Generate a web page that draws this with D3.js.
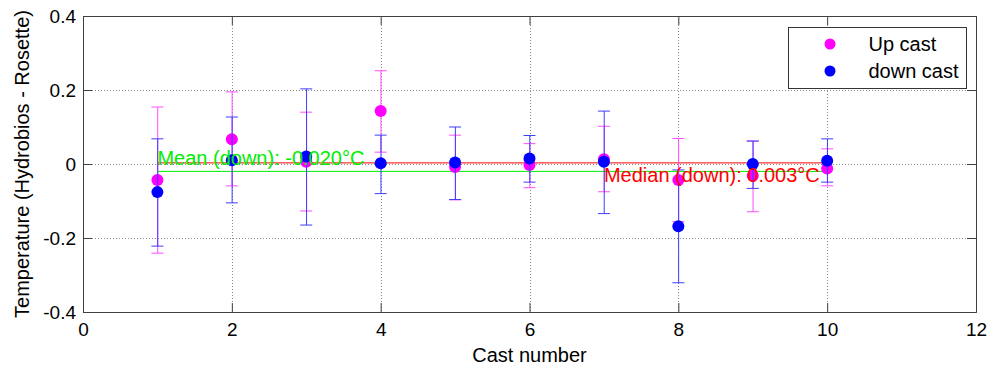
<!DOCTYPE html>
<html>
<head>
<meta charset="utf-8">
<script src="https://cdn.jsdelivr.net/npm/d3@7"></script>
<style>
  body { margin: 0; background: #fff; }
  text { font-family: "Liberation Sans", Arial, sans-serif; }
</style>
</head>
<body>
<div id="chart"></div>
<script>
// cast numbers and the two series (value, lower and upper error bar end)
const casts = [1, 2, 3, 4, 5, 6, 7, 8, 9, 10];
const upValue = [-0.043, 0.067, 0.006, 0.143, -0.008, -0.003, 0.013, -0.043, -0.032, -0.012];
const upLow = [-0.241, -0.059, -0.127, 0.032, -0.097, -0.064, -0.075, -0.156, -0.129, -0.059];
const upHigh = [0.154, 0.195, 0.140, 0.252, 0.078, 0.055, 0.102, 0.069, 0.062, 0.041];
const downValue = [-0.076, 0.010, 0.020, 0.002, 0.004, 0.015, 0.006, -0.168, 0.000, 0.009];
const downLow = [-0.222, -0.105, -0.165, -0.080, -0.096, -0.049, -0.134, -0.321, -0.066, -0.049];
const downHigh = [0.068, 0.127, 0.203, 0.078, 0.100, 0.077, 0.143, -0.016, 0.062, 0.068];
const meanDown = -0.020;
const medianDown = 0.003;
const xTicks = [0, 2, 4, 6, 8, 10, 12];
const yTicks = [-0.4, -0.2, 0, 0.2, 0.4];
const yTickLabels = ["-0.4", "-0.2", "0", "0.2", "0.4"];
const legendLabels = ["Up cast", "down cast"];

const width = 995, height = 373;
const margin = {top: 16, right: 19, bottom: 61, left: 83};
const innerW = width - margin.left - margin.right;
const innerH = height - margin.top - margin.bottom;
const upColor = "#ff00ff";
const downColor = "#0000ff";
const frameColor = "#404040";

let svg = d3.select("#chart").append("svg")
  .attr("width", width)
  .attr("height", height);

let g = svg.append("g")
  .attr("transform", `translate(${margin.left},${margin.top})`);

let x = d3.scaleLinear().domain([0, 12]).range([0, innerW]);
let y = d3.scaleLinear().domain([-0.4, 0.4]).range([innerH, 0]);

// dotted grid
let grid = g.append("g").attr("stroke", "#8a8a8a").attr("stroke-dasharray", "1,2");
grid.selectAll(".gx")
  .data(xTicks.filter(d => d > 0 && d < 12))
  .enter().append("line")
    .attr("x1", d => Math.round(x(d)) + 0.5).attr("x2", d => Math.round(x(d)) + 0.5)
    .attr("y1", 0).attr("y2", innerH);
grid.selectAll(".gy")
  .data(yTicks.filter(d => d > -0.4 && d < 0.4))
  .enter().append("line")
    .attr("y1", d => Math.round(y(d)) + 0.5).attr("y2", d => Math.round(y(d)) + 0.5)
    .attr("x1", 0).attr("x2", innerW);

// axes, ticks pointing inwards on all four sides
let xAxis = g.append("g")
  .attr("transform", `translate(0,${innerH})`)
  .call(d3.axisBottom(x).tickValues(xTicks).tickSize(-9).tickPadding(11).tickFormat(d3.format("d")));
let xTop = g.append("g")
  .call(d3.axisTop(x).tickValues(xTicks).tickSize(-9).tickFormat(""));
let yAxis = g.append("g")
  .call(d3.axisLeft(y).tickValues(yTicks).tickSize(-9).tickPadding(7)
    .tickFormat((d, i) => yTickLabels[i]));
let yRight = g.append("g")
  .attr("transform", `translate(${innerW},0)`)
  .call(d3.axisRight(y).tickValues(yTicks).tickSize(-9).tickFormat(""));

[xAxis, xTop, yAxis, yRight].forEach(a => {
  a.selectAll(".domain").attr("stroke", frameColor);
  a.selectAll(".tick line").attr("stroke", frameColor);
  a.selectAll("text")
    .attr("fill", "#000")
    .style("font-size", "19px")
    .style("font-family", "'Liberation Sans', Arial, sans-serif");
});

// mean / median lines across the casts
g.append("line")
  .attr("x1", x(casts[0])).attr("x2", x(casts[casts.length - 1]))
  .attr("y1", y(medianDown)).attr("y2", y(medianDown))
  .attr("stroke", "#ff0000").attr("stroke-width", 1);
g.append("line")
  .attr("x1", x(casts[0])).attr("x2", x(casts[casts.length - 1]))
  .attr("y1", y(meanDown)).attr("y2", y(meanDown))
  .attr("stroke", "#00ee00").attr("stroke-width", 1);

// error bars + markers for one series
function drawSeries(values, lows, highs, color, barColor) {
  let s = g.append("g");
  let data = casts.map((c, i) => ({c: c, v: values[i], lo: lows[i], hi: highs[i]}));
  s.selectAll(".bar").data(data).enter().append("line")
    .attr("x1", d => x(d.c) + 0.3).attr("x2", d => x(d.c) + 0.3)
    .attr("y1", d => y(d.lo)).attr("y2", d => y(d.hi))
    .attr("stroke", barColor);
  ["lo", "hi"].forEach(k => {
    s.selectAll(".cap" + k).data(data).enter().append("line")
      .attr("x1", d => x(d.c) - 6).attr("x2", d => x(d.c) + 6)
      .attr("y1", d => y(d[k])).attr("y2", d => y(d[k]))
      .attr("stroke", barColor);
  });
  s.selectAll("circle").data(data).enter().append("circle")
    .attr("cx", d => x(d.c)).attr("cy", d => y(d.v))
    .attr("r", 6)
    .attr("fill", color);
}
drawSeries(upValue, upLow, upHigh, upColor, "#ff4dff");
drawSeries(downValue, downLow, downHigh, downColor, "#3d3dff");

// annotations
g.append("text")
  .attr("x", x(1)).attr("y", y(0) + 1)
  .attr("fill", "#00ee00")
  .style("font-size", "20px")
  .text("Mean (down): " + meanDown.toFixed(3) + "°C");
g.append("text")
  .attr("x", x(7)).attr("y", y(0) + 18)
  .attr("fill", "#ff0000")
  .style("font-size", "20px")
  .text("Median (down): " + medianDown.toFixed(3) + "°C");

// axis labels
svg.append("text")
  .attr("x", margin.left + innerW / 2).attr("y", 362)
  .attr("text-anchor", "middle")
  .style("font-size", "20px")
  .text("Cast number");
svg.append("text")
  .attr("transform", `translate(29,${margin.top + innerH / 2}) rotate(-90)`)
  .attr("text-anchor", "middle")
  .style("font-size", "20px")
  .text("Temperature (Hydrobios - Rosette)");

// legend
let legend = svg.append("g").attr("transform", "translate(788.5,27.5)");
legend.append("rect")
  .attr("width", 178).attr("height", 61)
  .attr("fill", "#fff").attr("stroke", "#333");
[upColor, downColor].forEach((c, i) => {
  legend.append("circle")
    .attr("cx", 41.5).attr("cy", 16.5 + i * 27)
    .attr("r", 5.5).attr("fill", c);
  legend.append("text")
    .attr("x", 80).attr("y", 16.5 + i * 27 + 7)
    .style("font-size", "20px")
    .text(legendLabels[i]);
});
</script>
</body>
</html>
